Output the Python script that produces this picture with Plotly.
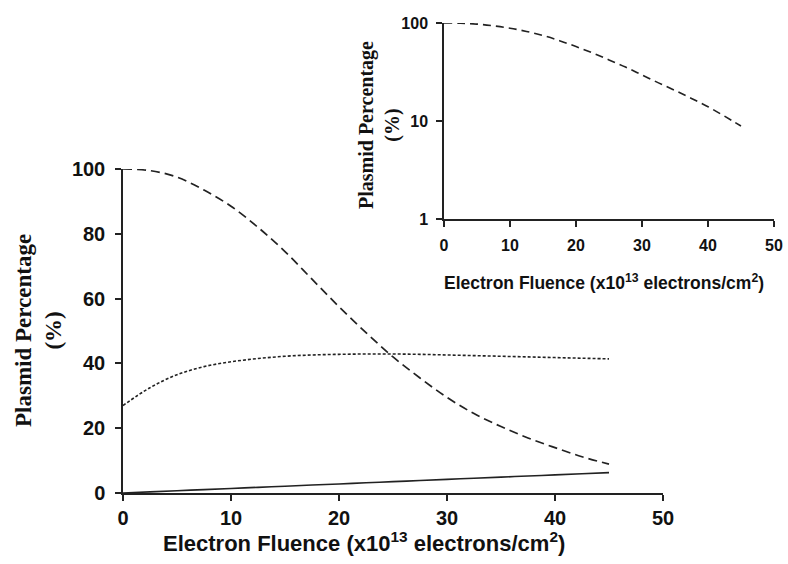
import plotly.graph_objects as go

fluence = [0, 2.5, 5, 7.5, 10, 12.5, 15, 17.5, 20, 22.5, 25, 27.5, 30, 32.5, 35, 37.5, 40, 42.5, 45]
supercoiled = [100, 99.5, 97.5, 93.5, 88.5, 82, 74.5, 66, 57.5, 49.5, 42, 35.5, 29.5, 24.5, 20.5, 17, 14, 11.2, 8.9]
open_circular = [27, 32.5, 36.5, 39, 40.5, 41.5, 42.2, 42.6, 42.8, 42.9, 42.9, 42.8, 42.6, 42.4, 42.2, 42.0, 41.8, 41.6, 41.4]
linear = [0, 0.35, 0.7, 1.05, 1.4, 1.75, 2.1, 2.45, 2.8, 3.15, 3.5, 3.85, 4.2, 4.55, 4.9, 5.25, 5.6, 5.95, 6.3]
x_ticks = [0, 10, 20, 30, 40, 50]
y_ticks_main = [0, 20, 40, 60, 80, 100]
y_ticks_inset = [1, 10, 100]

W, H = 788, 564
def px(x): return x / W
def py(y): return (H - y) / H

LC = "#222222"
SANS = "Liberation Sans, Arial, sans-serif"
SERIF = "Liberation Serif, Times New Roman, serif"

fig = go.Figure()
fig.add_trace(go.Scatter(x=fluence, y=supercoiled, mode="lines", line=dict(color=LC, width=1.7, dash="9px,5px", shape="spline"), xaxis="x", yaxis="y", showlegend=False))
fig.add_trace(go.Scatter(x=fluence, y=open_circular, mode="lines", line=dict(color=LC, width=1.6, dash="3px,2px", shape="spline"), xaxis="x", yaxis="y", showlegend=False))
fig.add_trace(go.Scatter(x=fluence, y=linear, mode="lines", line=dict(color=LC, width=1.6, shape="spline"), xaxis="x", yaxis="y", showlegend=False))
fig.add_trace(go.Scatter(x=fluence, y=supercoiled, mode="lines", line=dict(color=LC, width=1.6, dash="8px,5px", shape="spline"), xaxis="x2", yaxis="y2", showlegend=False))

axis_common = dict(showgrid=False, zeroline=False, showline=True, linecolor=LC, linewidth=1.5,
                   ticks="outside", ticklen=6, tickwidth=1.5, tickcolor=LC, automargin=False)

def tf(size):
    return dict(family=SANS, size=size, color="#111", weight="bold")

fig.update_layout(
    width=W, height=H,
    margin=dict(l=0, r=0, t=0, b=0),
    paper_bgcolor="white", plot_bgcolor="white",
    xaxis=dict(domain=[px(123), px(663)], range=[0, 50], tickvals=x_ticks,
               tickfont=tf(20), anchor="y", ticklabelstandoff=0, **axis_common),
    yaxis=dict(domain=[py(493), py(169)], range=[0, 100], tickvals=y_ticks_main,
               tickfont=tf(20), anchor="x", ticklabelstandoff=6, **axis_common),
    xaxis2=dict(domain=[px(444), px(774)], range=[0, 50], tickvals=x_ticks,
                tickfont=tf(16), anchor="y2", ticklabelstandoff=5, **axis_common),
    yaxis2=dict(domain=[py(219), py(23)], type="log", range=[0, 2], tickvals=y_ticks_inset,
                ticktext=["1", "10", "100"],
                tickfont=tf(16), anchor="x2", ticklabelstandoff=5, **axis_common),
)

ann = []
ann.append(dict(x=px(364), y=py(542), xref="paper", yref="paper", showarrow=False,
                text="<b>Electron Fluence (x10<sup>13</sup> electrons/cm<sup>2</sup>)</b>",
                font=dict(family=SANS, size=22, color="#111"), xanchor="center", yanchor="middle"))
ann.append(dict(x=px(38), y=py(331), xref="paper", yref="paper", showarrow=False, textangle=-90,
                text="<b>Plasmid Percentage<br>(%)</b>",
                font=dict(family=SERIF, size=23, color="#111"), xanchor="center", yanchor="middle"))
ann.append(dict(x=px(604), y=py(282), xref="paper", yref="paper", showarrow=False,
                text="<b>Electron Fluence (x10<sup>13</sup> electrons/cm<sup>2</sup>)</b>",
                font=dict(family=SANS, size=17.5, color="#111"), xanchor="center", yanchor="middle"))
ann.append(dict(x=px(380), y=py(125), xref="paper", yref="paper", showarrow=False, textangle=-90,
                text="<b>Plasmid Percentage<br>(%)</b>",
                font=dict(family=SERIF, size=20, color="#111"), xanchor="center", yanchor="middle"))
fig.update_layout(annotations=ann)

fig.write_html("out.html", config={"displayModeBar": False},
               post_script="document.body.style.margin='0';document.body.style.overflow='hidden';")
